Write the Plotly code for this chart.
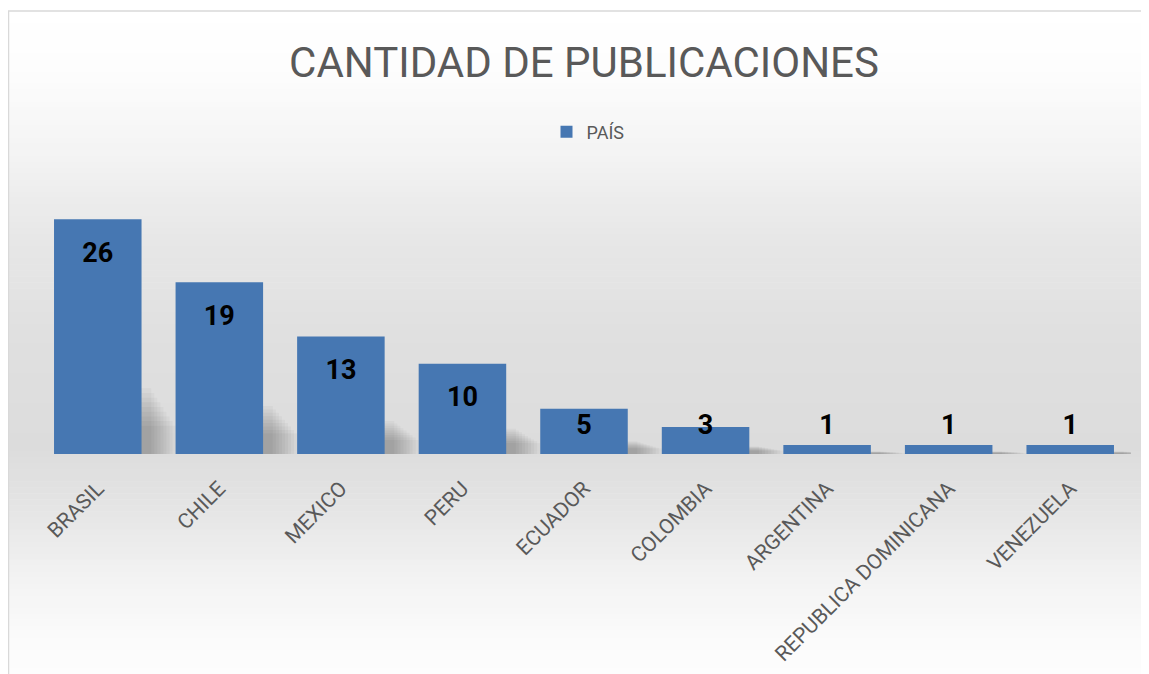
import plotly.graph_objects as go

# ---- data ----
countries = ["BRASIL", "CHILE", "MEXICO", "PERU", "ECUADOR", "COLOMBIA",
             "ARGENTINA", "REPUBLICA DOMINICANA", "VENEZUELA"]
publications = [26, 19, 13, 10, 5, 3, 1, 1, 1]
series_name = "PAÍS"
title_text = "CANTIDAD DE PUBLICACIONES"

# ---- geometry (reference-pixel coords; page has an 8px body margin) ----
OFF = 8
W, H = 1149 - OFF, 674 - OFF
PL, PR, PT, PB = 37, 1131, 183, 454          # plot area in reference pixels
L, R, T, B = PL - OFF, 1149 - PR, PT - OFF, 674 - PB
plot_h = PB - PT
plot_w = PR - PL


def py(ry):
    return (PB - ry) / plot_h


def px(rx):
    return (rx - PL) / plot_w


# background vertical gradient stops (reference pixel y, gray level)
stops = [(11, 255), (70, 253), (150, 244), (230, 232), (330, 224), (450, 220),
         (520, 231), (580, 243), (640, 251), (674, 253)]


def gray_at(y):
    for (y0, g0), (y1, g1) in zip(stops[:-1], stops[1:]):
        if y0 <= y <= y1:
            t = (y - y0) / (y1 - y0)
            return g0 + (g1 - g0) * t
    return stops[-1][1]


shapes = []
n = 110
for i in range(n):
    y0 = 11 + (674 - 11) * i / n
    y1 = 11 + (674 - 11) * (i + 1) / n + 0.6
    g = int(round(gray_at((y0 + y1) / 2)))
    shapes.append(dict(type="rect", xref="paper", yref="paper",
                       x0=px(9), x1=px(1148), y0=py(y1), y1=py(y0),
                       fillcolor=f"rgb({g},{g},{g})", line=dict(width=0),
                       layer="below"))
# chart border
shapes.append(dict(type="rect", xref="paper", yref="paper",
                   x0=px(8.6), x1=px(1147.5), y0=py(700), y1=py(11),
                   fillcolor="rgba(0,0,0,0)", line=dict(color="#d9d9d9", width=1.3),
                   layer="below"))

fig = go.Figure()

# soft perspective shadows behind bars (layered translucent bars)
n_sh = 9
for k in range(n_sh):
    t = k / (n_sh - 1)
    hf = 0.12 + 0.16 * t
    right_edge = 0.64 - 0.20 * t
    fig.add_trace(go.Bar(
        x=countries, y=[v * hf for v in publications],
        offset=0.2, width=right_edge - 0.2,
        marker=dict(color="rgba(0,0,0,0.03)", line=dict(width=0)),
        showlegend=False, hoverinfo="skip",
    ))

fig.add_trace(go.Bar(
    x=countries, y=publications, name=series_name,
    offset=-0.36, width=0.72,
    marker=dict(color="#4677b2", line=dict(width=0)),
    hoverinfo="x+y",
))

label_y = [max(v - 3.97, 2.95) for v in publications]
fig.add_trace(go.Scatter(
    x=countries, y=label_y, mode="text",
    text=[str(v) for v in publications],
    textposition="middle center",
    textfont=dict(family="Roboto", size=27, color="#000000", weight="bold"),
    showlegend=False, hoverinfo="skip", cliponaxis=False,
))

fig.update_layout(
    width=W, height=H, autosize=False,
    margin=dict(l=L, r=R, t=T, b=B, pad=0),
    paper_bgcolor="white",
    plot_bgcolor="rgba(0,0,0,0)",
    shapes=shapes,
    barmode="overlay",
    title=dict(text=title_text, x=(584 - OFF) / W, xanchor="center",
               y=1 - (62 - OFF) / H, yanchor="middle",
               font=dict(family="Roboto", size=42, color="#595959")),
    legend=dict(orientation="h", x=px(588), xanchor="center", y=py(132),
                yanchor="middle", bgcolor="rgba(0,0,0,0)",
                font=dict(family="Roboto", size=18, color="#595959")),
    xaxis=dict(tickangle=-45, showgrid=False, showline=False, zeroline=False,
               range=[-0.5, len(countries) - 0.5], automargin=False,
               ticks="outside", ticklen=13, tickcolor="rgba(0,0,0,0)",
               tickfont=dict(family="Roboto", size=21, color="#595959")),
    yaxis=dict(range=[0, 30], visible=False, showgrid=False, zeroline=False,
               automargin=False),
    showlegend=True,
)

fig.write_html("out.html")
